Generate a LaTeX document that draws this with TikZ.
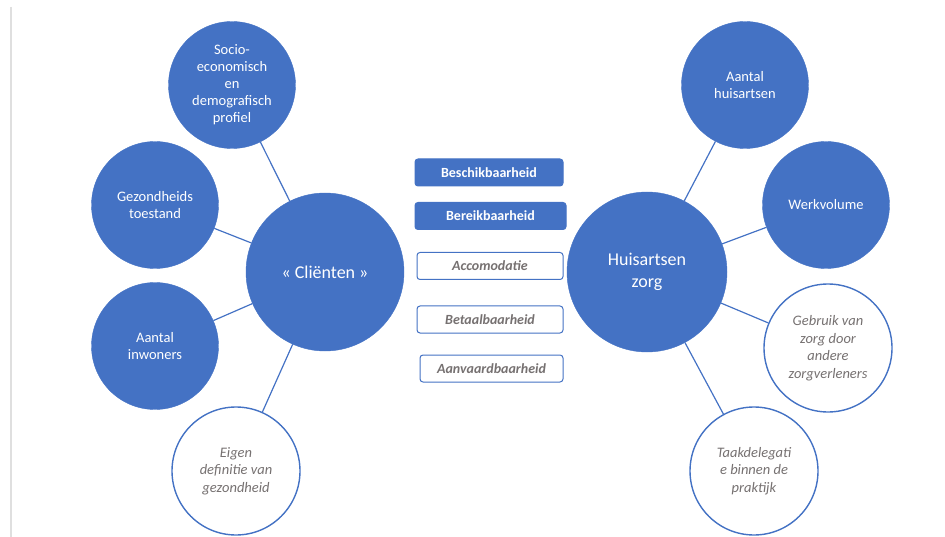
\documentclass[tikz,border=0pt]{standalone}
\usepackage{fontspec}
\setmainfont{Carlito}
\definecolor{officeblue}{HTML}{4472C4}
\definecolor{textgray}{HTML}{767171}

\begin{document}
\begin{tikzpicture}[x=1pt,y=-1pt,
hub/.style={
	circle,inner sep=0pt,minimum size=158pt,
	fill=officeblue,draw=officeblue,text=white,align=center,
	font=\fontsize{18}{22}\selectfont},
factor/.style={
	circle,inner sep=0pt,minimum size=127pt,
	fill=officeblue,draw=officeblue,text=white,align=center,
	font=\fontsize{14.5}{17}\selectfont},
open/.style={
	circle,inner sep=0pt,minimum size=128pt,line width=1.4pt,
	fill=white,draw=officeblue,text=textgray,align=center,
	font=\fontsize{14.5}{17.5}\selectfont\itshape},
link/.style={draw=officeblue,line width=1.2pt},
dim/.style={
	rectangle,rounded corners=3pt,minimum height=27pt,line width=1pt,
	draw=officeblue,font=\fontsize{14}{16}\selectfont\bfseries},
dimfull/.style={dim,fill=officeblue,text=white},
dimopen/.style={dim,fill=white,text=textgray,
	font=\fontsize{14}{16}\selectfont\bfseries\itshape},
]
\useasboundingbox (0,0) rectangle (945,537);
\draw[line width=2pt,color=gray!25] (11,7) -- (11,537);

% clienten side
\node[hub] (clienten) at (325,272) {« Cliënten »};
\node[factor] (socio) at (232,85) {Socio-\\economisch\\en\\demografisch\\profiel};
\node[factor] (gezond) at (155,205) {Gezondheids\\toestand};
\node[factor] (inwoners) at (155,346) {Aantal\\inwoners};
\node[open] (eigen) at (236,471) {Eigen\\definitie van\\gezondheid};

% huisartsen side
\node[hub,minimum size=160pt] (huisarts) at (647,272) {Huisartsen\\zorg};
\node[factor] (aantal) at (745,85) {Aantal\\huisartsen};
\node[factor] (werk) at (826,205) {Werkvolume};
\node[open] (gebruik) at (828,348) {Gebruik van\\zorg door\\andere\\zorgverleners};
\node[open] (taak) at (754,471) {Taakdelegati\\e binnen de\\praktijk};

% dimensies
\node[dimfull,minimum width=148pt] (beschik) at (489,172.5) {Beschikbaarheid};
\node[dimfull,minimum width=151pt] (bereik) at (490.5,216) {Bereikbaarheid};
\node[dimopen,minimum width=146pt] (accom) at (490,266) {Accomodatie};
\node[dimopen,minimum width=146pt] (betaal) at (490,319.5) {Betaalbaarheid};
\node[dimopen,minimum width=143pt] (aanv) at (491.5,368.5) {Aanvaardbaarheid};

\foreach \n in {socio,gezond,inwoners,eigen}
	\draw[link] (\n) -- (clienten);
\foreach \n in {aantal,werk,gebruik,taak}
	\draw[link] (\n) -- (huisarts);
\end{tikzpicture}
\end{document}
